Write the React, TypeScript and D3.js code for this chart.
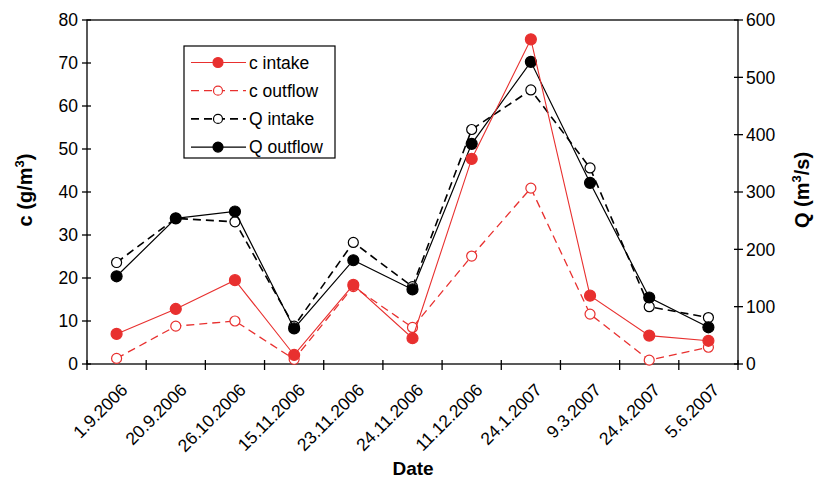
import * as d3 from "d3";
import React, { useEffect, useRef } from "react";

const dates = [
  "1.9.2006", "20.9.2006", "26.10.2006", "15.11.2006", "23.11.2006", "24.11.2006",
  "11.12.2006", "24.1.2007", "9.3.2007", "24.4.2007", "5.6.2007",
];
const cIntake = [7.0, 12.8, 19.5, 2.1, 18.4, 6.0, 47.7, 75.5, 15.9, 6.6, 5.4];
const cOutflow = [1.3, 8.8, 10.0, 1.1, 18.0, 8.5, 25.1, 40.9, 11.6, 0.9, 3.9];
const qIntake = [177, 254, 248, 66, 212, 135, 409, 478, 342, 100, 81];
const qOutflow = [153, 254, 266, 62, 181, 130, 384, 527, 316, 116, 64];
const cTicks = [0, 10, 20, 30, 40, 50, 60, 70, 80];
const qTicks = [0, 100, 200, 300, 400, 500, 600];

const RED = "#e8302f";
const FONT = "'Liberation Sans', Arial, sans-serif";

export default function App() {
  const ref = useRef<SVGSVGElement>(null);

  useEffect(() => {
    const svg = d3.select(ref.current);
    svg.selectAll("*").remove();

    const left = 87, right = 738, top = 20, bottom = 364;
    const x = d3.scaleBand().domain(dates).range([left, right]);
    const yC = d3.scaleLinear().domain([0, 80]).range([bottom, top]);
    const yQ = d3.scaleLinear().domain([0, 600]).range([bottom, top]);
    const cx = (i: number) => x(dates[i])! + x.bandwidth() / 2;

    // plot frame
    svg.append("rect")
      .attr("x", left).attr("y", top)
      .attr("width", right - left).attr("height", bottom - top)
      .attr("fill", "none").attr("stroke", "#000").attr("stroke-width", 1.3);

    // left axis
    const gl = svg.append("g");
    cTicks.forEach((t) => {
      gl.append("line").attr("x1", left - 5).attr("x2", left + 4)
        .attr("y1", yC(t)).attr("y2", yC(t)).attr("stroke", "#000").attr("stroke-width", 1.3);
      gl.append("text").attr("x", left - 9).attr("y", yC(t)).attr("dy", "0.36em")
        .attr("text-anchor", "end").attr("font-size", 17.5).attr("font-family", FONT)
        .text(t);
    });

    // right axis
    const gr = svg.append("g");
    qTicks.forEach((t) => {
      gr.append("line").attr("x1", right - 4).attr("x2", right + 5)
        .attr("y1", yQ(t)).attr("y2", yQ(t)).attr("stroke", "#000").attr("stroke-width", 1.3);
      gr.append("text").attr("x", right + 8).attr("y", yQ(t)).attr("dy", "0.36em")
        .attr("text-anchor", "start").attr("font-size", 17.5).attr("font-family", FONT)
        .text(t);
    });

    // x axis ticks & labels
    const gx = svg.append("g");
    const bounds = dates.map((d) => x(d)!).concat([right]);
    bounds.forEach((b) => {
      gx.append("line").attr("x1", b).attr("x2", b)
        .attr("y1", bottom - 4).attr("y2", bottom + 6)
        .attr("stroke", "#000").attr("stroke-width", 1.3);
    });
    dates.forEach((d, i) => {
      gx.append("text")
        .attr("transform", `translate(${cx(i) + 12},${bottom + 27}) rotate(-45)`)
        .attr("text-anchor", "end")
        .attr("font-size", 17.5).attr("font-family", FONT)
        .text(d);
    });

    // axis titles
    svg.append("text")
      .attr("transform", `translate(${413},${475})`)
      .attr("text-anchor", "middle").attr("font-size", 19).attr("font-weight", "bold")
      .attr("font-family", FONT).text("Date");

    const lt = svg.append("text")
      .attr("transform", `translate(${32},${190}) rotate(-90)`)
      .attr("text-anchor", "middle").attr("font-size", 20).attr("font-weight", "bold")
      .attr("font-family", FONT);
    lt.append("tspan").text("c  (g/m");
    lt.append("tspan").attr("dy", -8).attr("font-size", 13).text("3");
    lt.append("tspan").attr("dy", 8).text(")");

    const rt = svg.append("text")
      .attr("transform", `translate(${809},${190}) rotate(-90)`)
      .attr("text-anchor", "middle").attr("font-size", 20).attr("font-weight", "bold")
      .attr("font-family", FONT);
    rt.append("tspan").text("Q  (m");
    rt.append("tspan").attr("dy", -8).attr("font-size", 13).text("3");
    rt.append("tspan").attr("dy", 8).text("/s)");

    // series
    const series = [
      { name: "c intake", vals: cIntake, y: yC, color: RED, dash: null, filled: true, sw: 1.1 },
      { name: "c outflow", vals: cOutflow, y: yC, color: RED, dash: "8,5", filled: false, sw: 1.3 },
      { name: "Q intake", vals: qIntake, y: yQ, color: "#000", dash: "8,5", filled: false, sw: 1.6 },
      { name: "Q outflow", vals: qOutflow, y: yQ, color: "#000", dash: null, filled: true, sw: 1.2 },
    ];
    const order = [2, 3, 1, 0];
    order.forEach((k) => {
      const s = series[k];
      const line = d3.line<number>().x((_, i) => cx(i)).y((v) => s.y(v));
      svg.append("path").attr("d", line(s.vals)!)
        .attr("fill", "none").attr("stroke", s.color).attr("stroke-width", s.sw)
        .attr("stroke-dasharray", s.dash);
      svg.selectAll(null).data(s.vals).enter().append("circle")
        .attr("cx", (_, i) => cx(i)).attr("cy", (v) => s.y(v))
        .attr("r", s.filled ? 5.5 : 5)
        .attr("fill", s.filled ? s.color : "#fff")
        .attr("stroke", s.color).attr("stroke-width", 1.2);
    });

    // legend
    const lg = svg.append("g");
    lg.append("rect").attr("x", 184).attr("y", 46).attr("width", 151).attr("height", 112)
      .attr("fill", "#fff").attr("stroke", "#000").attr("stroke-width", 1.2);
    series.forEach((s, i) => {
      const ly = 62.5 + i * 28.2;
      lg.append("line").attr("x1", 191).attr("x2", 246).attr("y1", ly).attr("y2", ly)
        .attr("stroke", s.color).attr("stroke-width", s.sw)
        .attr("stroke-dasharray", s.dash);
      lg.append("circle").attr("cx", 218).attr("cy", ly).attr("r", s.filled ? 5 : 4.5)
        .attr("fill", s.filled ? s.color : "#fff").attr("stroke", s.color).attr("stroke-width", 1.2);
      lg.append("text").attr("x", 249).attr("y", ly).attr("dy", "0.36em")
        .attr("font-size", 17.5).attr("font-family", FONT).text(s.name);
    });
  }, []);

  return (
    <svg ref={ref} width={815} height={482} style={{ display: "block", position: "absolute", left: 0, top: 0 }} />
  );
}
